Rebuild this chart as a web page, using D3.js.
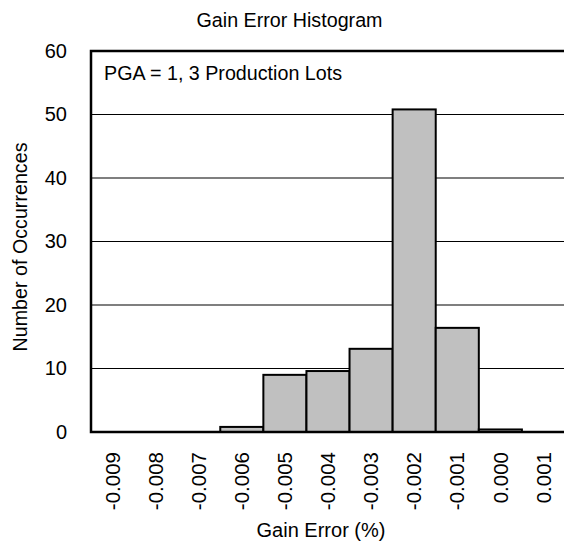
<!DOCTYPE html>
<html>
<head>
<meta charset="utf-8">
<script src="https://cdn.jsdelivr.net/npm/d3@7"></script>
<style>
  body { margin: 0; background: #fff; }
  svg text { font-family: "Liberation Sans", Arial, sans-serif; fill: #000; }
</style>
</head>
<body>
<svg id="chart"></svg>
<script>
    // Data
    const categories = ['-0.009', '-0.008', '-0.007', '-0.006', '-0.005', '-0.004',
                        '-0.003', '-0.002', '-0.001', '0.000', '0.001'];
    const counts = [0, 0, 0, 0.8, 9.0, 9.6, 13.1, 50.8, 16.4, 0.4, 0];
    const yTicks = [0, 10, 20, 30, 40, 50, 60];

    const width = 564, height = 543;
    const svg = d3.select('#chart').attr('width', width).attr('height', height);

    const plotL = 91, plotR = 565, plotT = 51, plotB = 432;

    const x = d3.scaleBand().domain(categories).range([plotL, plotR]).padding(0);
    const y = d3.scaleLinear().domain([0, 60]).range([plotB, plotT]);

    // Gridlines
    svg.append('g')
       .selectAll('line')
       .data(yTicks.filter(t => t > 0 && t < 60))
       .join('line')
       .attr('x1', plotL).attr('x2', width)
       .attr('y1', d => y(d)).attr('y2', d => y(d))
       .attr('stroke', '#000').attr('stroke-width', 1.2);

    // Bars
    const data = categories.map((c, i) => ({ cat: c, val: counts[i] }));
    svg.append('g')
       .selectAll('rect')
       .data(data.filter(d => d.val > 0))
       .join('rect')
       .attr('x', d => x(d.cat))
       .attr('y', d => y(d.val))
       .attr('width', x.bandwidth())
       .attr('height', d => y(0) - y(d.val))
       .attr('fill', '#c0c0c0')
       .attr('stroke', '#000')
       .attr('stroke-width', 2);

    // Frame: top, left, bottom
    svg.append('path')
       .attr('d', `M${width},${y(60)}H${plotL}V${y(0)}H${width}`)
       .attr('fill', 'none')
       .attr('stroke', '#000')
       .attr('stroke-width', 2.5);

    // Y axis labels
    const yAxis = d3.axisLeft(y).tickValues(yTicks).tickSize(0).tickPadding(24);
    const gy = svg.append('g').attr('transform', `translate(${plotL},0)`).call(yAxis);
    gy.select('.domain').remove();
    gy.attr('font-family', null).attr('font-size', null);
    gy.selectAll('text').style('font-size', '20px');

    // X axis labels
    const xAxis = d3.axisBottom(x).tickSize(0);
    const gx = svg.append('g').attr('transform', `translate(0,${plotB})`).call(xAxis);
    gx.select('.domain').remove();
    gx.attr('font-family', null).attr('font-size', null);
    gx.selectAll('text')
      .style('font-size', '20.5px')
      .attr('transform', 'rotate(-90)')
      .attr('text-anchor', 'end')
      .attr('x', -20)
      .attr('y', 0)
      .attr('dy', '0.35em');

    // Title
    svg.append('text')
       .attr('x', 289.5).attr('y', 27)
       .attr('text-anchor', 'middle')
       .style('font-size', '19.7px')
       .text('Gain Error Histogram');

    // Annotation
    svg.append('text')
       .attr('x', 104).attr('y', 80)
       .style('font-size', '19.7px')
       .text('PGA = 1, 3 Production Lots');

    // Axis titles
    svg.append('text')
       .attr('x', 321).attr('y', 537)
       .attr('text-anchor', 'middle')
       .style('font-size', '20px')
       .text('Gain Error (%)');

    svg.append('text')
       .attr('transform', 'translate(27,247) rotate(-90)')
       .attr('text-anchor', 'middle')
       .style('font-size', '19.7px')
       .text('Number of Occurrences');
</script>
</body>
</html>
